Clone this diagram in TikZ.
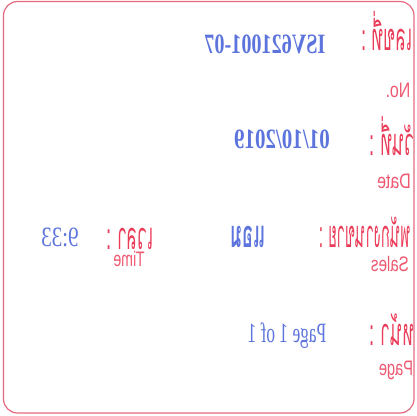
\documentclass[tikz,border=0pt]{standalone}
\usepackage{fontspec}
\setmainfont{Liberation Sans}
\newfontfamily\thaifont[Script=Thai]{Loma}
\newfontfamily\valfont{Liberation Serif}
\definecolor{labelred}{RGB}{234,60,88}
\definecolor{boxred}{RGB}{228,104,126}
\definecolor{valblue}{RGB}{92,116,220}
\begin{document}
\begin{tikzpicture}[x=1pt, y=-1pt,
		lbl/.style={text=labelred, font=\thaifont\fontsize{38}{38}\selectfont, xscale=-#1, anchor=base},
		lbl/.default=0.46,
		eng/.style={text=labelred!85, font=\fontsize{21}{21}\selectfont, xscale=-#1, anchor=base},
		eng/.default=0.76,
		val/.style={text=valblue, font=\valfont\bfseries\fontsize{28}{28}\selectfont, xscale=-#1, anchor=base},
		val/.default=0.72,
		thinval/.style={text=valblue, font=\valfont\fontsize{28}{28}\selectfont, xscale=-#1, anchor=base},
		thval/.style={text=valblue, font=\thaifont\bfseries\fontsize{38}{38}\selectfont, xscale=-0.48, anchor=base}]
		\useasboundingbox (0, 0) rectangle (416, 416);
		\draw[boxred, line width=1.2pt, rounded corners=14pt] (3.5, 1.5) rectangle (414, 413);
		
		\node[lbl] (noTh) at (387, 50) {เลขที่ :};
		\node[eng] (noEn) at (398, 97) {No.};
		\node[val] (noVal) at (265, 53) {ISV621001-07};
		
		\node[lbl] (dateTh) at (392, 155) {วันที่ :};
		\node[eng] (dateEn) at (394, 188) {Date};
		\node[val=0.75] (dateVal) at (282, 148) {01/10/2019};
		
		\node[lbl=0.39] (salesTh) at (365, 247) {พนักงานขาย :};
		\node[eng=0.72] (salesEn) at (390, 271) {Sales};
		\node[thval] (salesVal) at (248, 247) {แอม};
		
		\node[lbl] (timeTh) at (130, 249) {เวลา :};
		\node[eng=0.68] (timeEn) at (129, 266) {Time};
		\node[thinval=0.75] (timeVal) at (60, 246) {9:33};
		
		\node[lbl] (pageTh) at (392, 345) {หน้า :};
		\node[eng=0.7] (pageEn) at (396, 375) {Page};
		\node[thinval=0.62] (pageVal) at (287, 342) {Page 1 of 1};
	\end{tikzpicture}
\end{document}
